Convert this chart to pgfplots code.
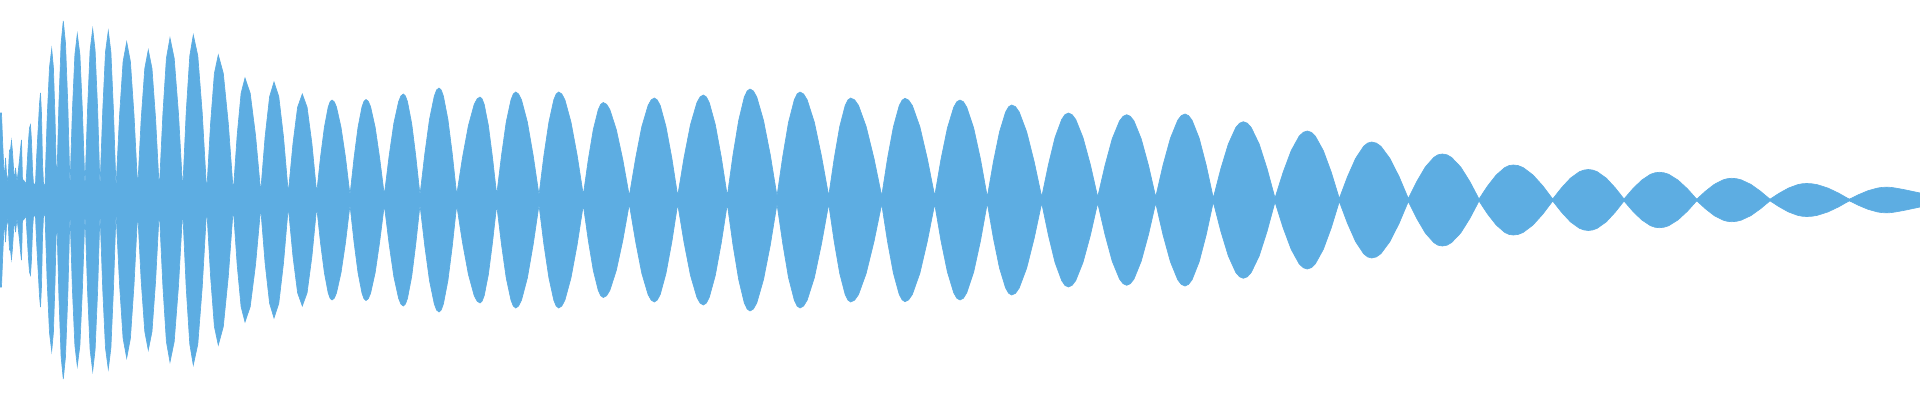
\documentclass[border=0pt]{standalone}
\usepackage{pgfplots}
\usepackage{pgfplotstable}
\pgfplotsset{compat=1.18}
\definecolor{wave}{RGB}{93,173,226}
\pgfplotstableread{
x a
0 87
1.5 87
2.5 61
3.5 38
4.5 18
5.5 42
6.5 26
8 18
9.5 50
10.5 50
11.5 59
12.5 48
13.5 32
14.5 18
15.5 32
17 18
18.5 31
19.5 40
20.5 51
21.5 60
22.5 19
23.5 20
26 16
28.5 59
29.5 72
30.5 75
31.5 59
32.5 30
33.5 16
35.5 16
36.5 40
37.5 59
38.5 77
39.5 96
40.5 107
41.5 86
42.5 37
43.5 16
45 14
47.2 82.5
49.5 132.6
51.7 151
53.4 132.6
55.0 82.5
56.7 12
58.9 95.5
61.1 156.6
63.3 179
65.5 156.6
67.8 95.5
70 12
72.4 89
74.9 145.4
77.3 166
79.9 145.4
82.4 89
85 12
87.6 91.5
90.1 149.7
92.7 171
95.1 149.7
97.6 91.5
100 12
102.8 90.5
105.5 148
108.3 169
110.9 148
113.4 90.5
116 12
119.6 85
123.1 138.4
126.7 158
130.4 138.4
134.0 85
137.7 12
141.2 81
144.8 131.5
148.3 150
152.0 131.5
155.6 81
159.3 10
162.9 86
166.4 141.6
170 162
174.2 141.6
178.5 86
182.7 10
186.2 87.5
189.8 144.2
193.3 165
197.8 144.2
202.2 87.5
206.7 8
210.6 76.5
214.4 126.6
218.3 145
223.3 126.6
228.3 76.5
233.3 8
237.2 65
241.1 106.7
245 122
250.2 106.7
255.5 65
260.7 8
265.1 63
269.6 103.3
274 118
278.8 103.3
283.5 63
288.3 7
293.0 56.5
297.6 92.7
302.3 106
307.1 92.7
311.9 56.5
316.7 7
320.5 42.6
324.4 72.8
328.2 92.9
330.1 98.2
332 100
334.3 98.2
336.5 92.9
341 72.8
345.5 42.6
350 5
354 41.6
358 72.5
362 93.2
364 98.7
366 100.5
368.3 98.7
370.6 93.2
375.2 72.5
379.7 41.6
384.3 5
389.1 43.7
393.8 76.4
398.6 98.3
400.9 104.1
403.3 106
405.4 104.1
407.5 98.3
411.7 76.4
415.8 43.7
420 5
424.8 46
429.5 80.6
434.3 103.9
436.6 110
439 112
441.2 110
443.4 103.9
447.9 80.6
452.3 46
456.7 5
462.5 42.5
468.4 74.3
474.2 95.6
477.1 101.1
480 103
482.1 101.1
484.2 95.6
488.4 74.3
492.5 42.5
496.7 5
501.5 44.4
506.2 77.8
511 100.2
513.3 106
515.7 108
518.6 106
521.5 100.2
527.4 77.8
533.2 44.4
539 5
543.9 44.4
548.9 77.8
553.8 100.2
556.2 106
558.7 108
561.8 106
564.9 100.2
571 77.8
577.2 44.4
583.3 5
588.3 40.4
593.3 70.4
598.3 90.5
600.8 95.7
603.3 97.5
606.6 95.7
609.8 90.5
616.3 70.4
622.8 40.4
629.3 4
635.6 41.5
641.8 73.3
648.1 94.6
651.2 100.1
654.3 102
657.2 100.1
660.2 94.6
666 73.3
671.9 41.5
677.7 4
684.1 42.7
690.5 75.4
696.9 97.3
700.1 103.1
703.3 105
706.3 103.1
709.3 97.3
715.3 75.4
721.3 42.7
727.3 4
733 45
738.7 79.6
744.3 102.9
747.2 109
750 111
753.4 109
756.8 102.9
763.5 79.6
770.3 45
777 4
782.8 43.8
788.5 77.5
794.3 100.1
797.1 106
800 108
803.6 106
807.2 100.1
814.4 77.5
821.5 43.8
828.7 4
834.2 41.5
839.7 73.3
845.2 94.6
848 100.1
850.7 102
854.6 100.1
858.5 94.6
866.2 73.3
874 41.5
881.7 4
887.5 41.4
893.4 73.1
899.2 94.3
902.1 99.8
905 101.7
908.7 99.8
912.4 94.3
919.9 73.1
927.3 41.4
934.7 4
941 40.8
947.4 71.9
953.7 92.7
956.8 98.2
960 100
963.4 98.2
966.8 92.7
973.7 71.9
980.5 40.8
987.3 3
993.4 38.2
999.5 68
1005.6 88
1008.7 93.3
1011.7 95
1015.5 93.3
1019.2 88
1026.7 68
1034.2 38.2
1041.7 3
1048.4 35.2
1055 62.4
1061.7 80.6
1065 85.4
1068.3 87
1072 85.4
1075.7 80.6
1083 62.4
1090.4 35.2
1097.7 3
1105 34.5
1112.2 61.2
1119.5 79
1123.1 83.7
1126.7 85.3
1130.3 83.7
1134 79
1141.2 61.2
1148.5 34.5
1155.7 3
1163 34.8
1170.4 61.7
1177.7 79.7
1181.3 84.4
1185 86
1188.5 84.4
1192.1 79.7
1199.2 61.7
1206.2 34.8
1213.3 2
1220.8 31.2
1228.3 55.9
1235.8 72.5
1239.6 76.8
1243.3 78.3
1247.3 76.8
1251.2 72.5
1259.2 55.9
1267.1 31.2
1275 2
1283.1 27.7
1291.2 49.4
1299.2 63.9
1303.3 67.7
1307.3 69
1311.3 67.7
1315.3 63.9
1323.3 49.4
1331.3 27.7
1339.3 1.5
1347.4 23.1
1355.5 41.4
1363.6 53.7
1367.6 56.9
1371.7 58
1376.3 56.9
1380.9 53.7
1390 41.4
1399.2 23.1
1408.3 1.5
1416.8 18.5
1425.3 33
1433.8 42.6
1438 45.2
1442.3 46
1446.9 45.2
1451.5 42.6
1460.7 33
1469.8 18.5
1479 1
1487.6 14
1496.2 25
1504.7 32.4
1509 34.4
1513.3 35
1518.2 34.4
1523.2 32.4
1533 25
1542.9 14
1552.7 1
1561.6 12.3
1570.5 21.9
1579.4 28.3
1583.9 29.9
1588.3 30.5
1592.8 29.9
1597.2 28.3
1606.2 21.9
1615.1 12.3
1624 1
1632.8 11.2
1641.7 19.9
1650.5 25.7
1654.9 27.2
1659.3 27.7
1664 27.2
1668.7 25.7
1678 19.9
1687.4 11.2
1696.7 0.8
1705.5 8.8
1714.2 15.6
1723 20.1
1727.3 21.3
1731.7 21.7
1736.5 21.3
1741.3 20.1
1750.9 15.6
1760.4 8.8
1770 0.8
1779.2 6.8
1788.4 11.9
1797.5 15.3
1802.1 16.2
1806.7 16.5
1812 16.2
1817.4 15.3
1828 11.9
1838.7 6.8
1849.3 0.8
1858.7 5.4
1868 9.3
1877.4 11.9
1882 12.6
1886.7 12.8
1891 12.6
1895 12
1903.5 10.5
1912 8.7
1920 7
}\wavedata
\begin{document}
\begin{tikzpicture}
\begin{axis}[
  width=20cm, height=4.1667cm, scale only axis,
  hide axis,
  xmin=0, xmax=1920, ymin=-200, ymax=200,
]
\path (rel axis cs:0,0) rectangle (rel axis cs:1,1);
\addplot[fill=wave, draw=wave, line width=0.2pt] table[x=x, y=a] {\wavedata} \closedcycle;
\addplot[fill=wave, draw=wave, line width=0.2pt] table[x=x, y expr=-\thisrow{a}] {\wavedata} \closedcycle;
\end{axis}
\end{tikzpicture}
\end{document}
